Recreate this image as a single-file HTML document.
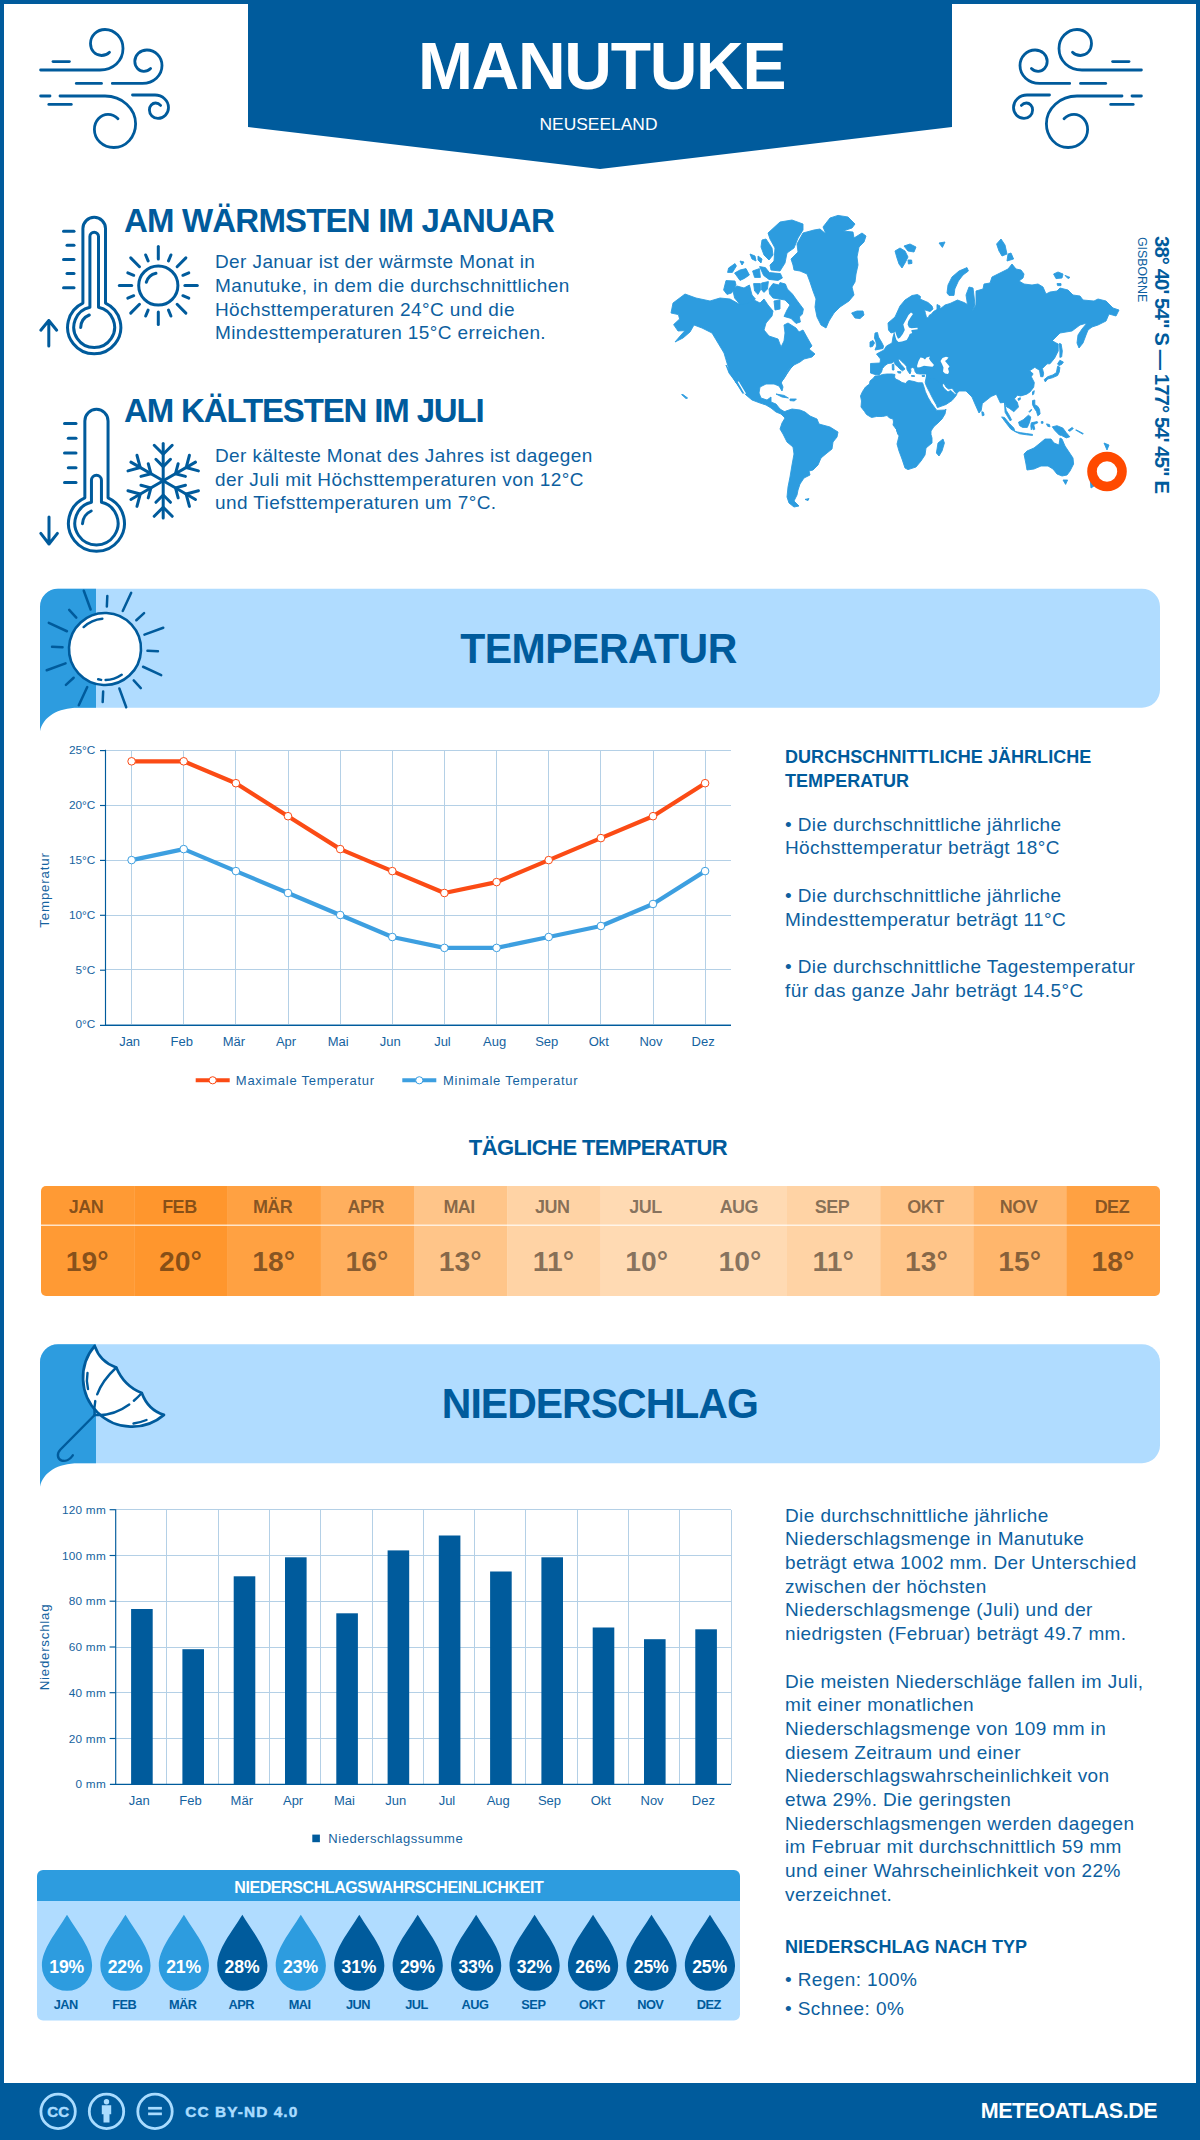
<!DOCTYPE html>
<html lang="de"><head><meta charset="utf-8"><title>Manutuke</title><style>
*{margin:0;padding:0;box-sizing:border-box}
html,body{width:1200px;height:2140px;background:#fff;overflow:hidden}
body{position:relative;font-family:"Liberation Sans",sans-serif;color:#005b9c}
.abs{position:absolute}
.t{position:absolute;white-space:nowrap;line-height:1}
.b{font-weight:700}
.c{text-align:center}
svg{position:absolute;left:0;top:0}
.body{position:absolute;white-space:nowrap;color:#0d5fa0;font-size:19px;line-height:23.7px;letter-spacing:0.4px}
</style></head><body>
<svg width="1200" height="2140" viewBox="0 0 1200 2140"><rect x="2" y="2" width="1196" height="2136" fill="none" stroke="#005b9c" stroke-width="4"/>
<path fill="#005b9c" d="M248,0 L952,0 L952,127 L600,169 L248,127Z"/>
<g fill="none" stroke="#005b9c" stroke-width="2.8" stroke-linecap="round"><path d="M40.6,70 L100,70 C113,70 123,61 123,48.5 C123,38 115,29.5 105,29.5 C97,29.5 90.5,35.5 90.5,43.5 C90.5,50.5 95.5,55.5 101.5,55.5 C105,55.5 107.5,54.3 109.5,52.2"/><path d="M53,61.6 L69.4,61.6"/><path d="M76.3,83.4 L101.5,83.4"/><path d="M112.3,83.4 L142.5,83.4 C153.5,83.4 162,75.5 162,65.6 C162,57 155.2,50 146.9,50 C140.2,50 134.8,55 134.8,61.3 C134.8,67 139,71.3 143.8,71.3 C146.5,71.3 148.8,70.3 150.6,68.5"/><path d="M40.6,96 L50,96"/><path d="M60,96 L105,96 C122,96 135.6,108.5 135.6,123.8 C135.6,137 126,147.5 113.8,147.5 C103,147.5 94.4,139.5 94.4,129.4 C94.4,121 100.5,114.4 108,114.4 C112,114.4 115.3,116 118,118.8"/><path d="M48.8,104.4 L71.3,104.4"/><path d="M132.5,95 L155,95 C162.5,95 168.5,100.6 168.5,107.5 C168.5,113.5 163.8,118.4 158,118.4 C153.2,118.4 149.4,114.6 149.4,110 C149.4,106 152.2,103 155.6,103 C157.6,103 159.3,103.9 160.6,105.4"/></g>
<g transform="translate(1182,0) scale(-1,1)" fill="none" stroke="#005b9c" stroke-width="2.8" stroke-linecap="round"><path d="M40.6,70 L100,70 C113,70 123,61 123,48.5 C123,38 115,29.5 105,29.5 C97,29.5 90.5,35.5 90.5,43.5 C90.5,50.5 95.5,55.5 101.5,55.5 C105,55.5 107.5,54.3 109.5,52.2"/><path d="M53,61.6 L69.4,61.6"/><path d="M76.3,83.4 L101.5,83.4"/><path d="M112.3,83.4 L142.5,83.4 C153.5,83.4 162,75.5 162,65.6 C162,57 155.2,50 146.9,50 C140.2,50 134.8,55 134.8,61.3 C134.8,67 139,71.3 143.8,71.3 C146.5,71.3 148.8,70.3 150.6,68.5"/><path d="M40.6,96 L50,96"/><path d="M60,96 L105,96 C122,96 135.6,108.5 135.6,123.8 C135.6,137 126,147.5 113.8,147.5 C103,147.5 94.4,139.5 94.4,129.4 C94.4,121 100.5,114.4 108,114.4 C112,114.4 115.3,116 118,118.8"/><path d="M48.8,104.4 L71.3,104.4"/><path d="M132.5,95 L155,95 C162.5,95 168.5,100.6 168.5,107.5 C168.5,113.5 163.8,118.4 158,118.4 C153.2,118.4 149.4,114.6 149.4,110 C149.4,106 152.2,103 155.6,103 C157.6,103 159.3,103.9 160.6,105.4"/></g>
<g fill="none" stroke="#005b9c" stroke-width="3" stroke-linecap="round" stroke-linejoin="round"><path d="M82.90,303.12 L82.90,228.60 A11.30,11.30 0 0 1 105.50,228.60 L105.50,303.12 A26.60,26.60 0 1 1 82.90,303.12Z"/><path d="M89.90,307.26 L89.90,236.50 A4.30,4.30 0 0 1 98.50,236.50 L98.50,307.26 A20.40,20.40 0 1 1 89.90,307.26Z"/><path d="M89.3,315 A14,14 0 0 0 80.7,327.5"/><path d="M63.5,231.2 L74,231.2"/><path d="M67,245.3 L74,245.3"/><path d="M63.5,259.4 L74,259.4"/><path d="M67,273.5 L74,273.5"/><path d="M63.5,287.7 L74,287.7"/><path d="M48.8,346 L48.8,320.5 M40.8,330.2 L48.8,320.5 L56.7,330.2"/><circle cx="158.3" cy="285.5" r="19.6"/><path d="M156,273.2 A13,13 0 0 0 146.3,282.2"/><path d="M158.30,258.90 L158.30,246.50"/><path d="M168.48,260.92 L170.93,255.01"/><path d="M177.11,266.69 L185.88,257.92"/><path d="M182.88,275.32 L188.79,272.87"/><path d="M184.90,285.50 L197.30,285.50"/><path d="M182.88,295.68 L188.79,298.13"/><path d="M177.11,304.31 L185.88,313.08"/><path d="M168.48,310.08 L170.93,315.99"/><path d="M158.30,312.10 L158.30,324.50"/><path d="M148.12,310.08 L145.67,315.99"/><path d="M139.49,304.31 L130.72,313.08"/><path d="M133.72,295.68 L127.81,298.13"/><path d="M131.70,285.50 L119.30,285.50"/><path d="M133.72,275.32 L127.81,272.87"/><path d="M139.49,266.69 L130.72,257.92"/><path d="M148.12,260.92 L145.67,255.01"/></g>
<g fill="none" stroke="#005b9c" stroke-width="3" stroke-linecap="round" stroke-linejoin="round"><path d="M84.85,497.82 L84.85,420.90 A11.60,11.60 0 0 1 108.05,420.90 L108.05,497.82 A28.00,28.00 0 1 1 84.85,497.82Z"/><path d="M91.45,502.29 L91.45,480.30 A5.00,5.00 0 0 1 101.45,480.30 L101.45,502.29 A21.60,21.60 0 1 1 91.45,502.29Z"/><path d="M91.2,511 A15,15 0 0 0 82.5,523.7"/><path d="M64.5,423.5 L76,423.5"/><path d="M68.3,438.2 L76,438.2"/><path d="M64.5,453 L76,453"/><path d="M68.3,467.7 L76,467.7"/><path d="M64.5,482.4 L76,482.4"/><path d="M49,517 L49,544 M40.8,533.4 L49,544 L57.4,533.4"/><g transform="rotate(0 163.2 480.8)"><path d="M163.2,480.8 L163.2,443.5"/><path d="M154.2,445.3 L163.2,454.3 L172.2,445.3"/><path d="M155.89999999999998,459.3 L163.2,466.6 L170.5,459.3"/></g><g transform="rotate(60 163.2 480.8)"><path d="M163.2,480.8 L163.2,443.5"/><path d="M154.2,445.3 L163.2,454.3 L172.2,445.3"/><path d="M155.89999999999998,459.3 L163.2,466.6 L170.5,459.3"/></g><g transform="rotate(120 163.2 480.8)"><path d="M163.2,480.8 L163.2,443.5"/><path d="M154.2,445.3 L163.2,454.3 L172.2,445.3"/><path d="M155.89999999999998,459.3 L163.2,466.6 L170.5,459.3"/></g><g transform="rotate(180 163.2 480.8)"><path d="M163.2,480.8 L163.2,443.5"/><path d="M154.2,445.3 L163.2,454.3 L172.2,445.3"/><path d="M155.89999999999998,459.3 L163.2,466.6 L170.5,459.3"/></g><g transform="rotate(240 163.2 480.8)"><path d="M163.2,480.8 L163.2,443.5"/><path d="M154.2,445.3 L163.2,454.3 L172.2,445.3"/><path d="M155.89999999999998,459.3 L163.2,466.6 L170.5,459.3"/></g><g transform="rotate(300 163.2 480.8)"><path d="M163.2,480.8 L163.2,443.5"/><path d="M154.2,445.3 L163.2,454.3 L172.2,445.3"/><path d="M155.89999999999998,459.3 L163.2,466.6 L170.5,459.3"/></g></g>
<g stroke-linejoin="round" stroke-width="0.9"><path fill="#2d9cdf" stroke="#2d9cdf" d="M673.0,303.0 L685.0,294.0 L696.0,298.0 L710.0,301.0 L720.0,298.0 L730.0,299.0 L739.0,304.0 L746.0,303.0 L752.0,299.0 L760.0,303.0 L764.0,299.0 L768.0,305.0 L773.0,311.0 L772.0,316.0 L766.0,323.0 L764.0,330.0 L769.0,336.0 L778.0,339.0 L781.0,347.0 L784.0,341.0 L785.0,333.0 L784.0,325.0 L788.0,323.0 L796.0,328.0 L799.0,332.0 L803.0,330.0 L808.0,339.0 L812.0,346.0 L809.0,349.0 L815.0,354.0 L812.0,357.0 L804.0,359.0 L800.0,362.0 L794.0,365.0 L788.0,371.0 L785.0,377.0 L780.0,384.0 L793.0,365.0 L788.0,370.0 L785.0,376.0 L781.0,382.0 L783.0,387.0 L782.0,391.0 L779.0,386.0 L774.0,384.0 L766.0,384.0 L760.0,387.0 L759.0,393.0 L761.0,398.0 L767.0,400.0 L771.0,397.0 L771.0,402.0 L776.0,404.0 L780.0,409.0 L785.0,412.0 L781.0,414.0 L776.0,412.0 L771.0,408.0 L766.0,405.0 L760.0,403.0 L752.0,400.0 L746.0,395.0 L740.0,388.0 L735.0,381.0 L729.0,373.0 L726.0,365.0 L737.0,384.0 L730.0,373.0 L727.0,363.0 L724.0,353.0 L718.0,343.0 L712.0,333.0 L702.0,328.0 L694.0,325.0 L690.0,332.0 L683.0,338.0 L675.0,342.0 L681.0,335.0 L685.0,330.6 L678.0,331.0 L673.6,324.6 L679.6,319.0 L678.4,314.6 L671.0,313.0Z"/><path fill="#2d9cdf" stroke="#2d9cdf" d="M734.8,380.6 L737.2,381.0 L744.0,392.6 L742.8,393.4Z"/><path fill="#ffffff" d="M737.6,381.8 L738.8,381.4 L746.0,393.4 L744.8,394.2Z"/><path fill="#2d9cdf" stroke="#2d9cdf" d="M776.0,394.0 L784.0,395.4 L788.4,398.0 L782.0,397.0Z"/><path fill="#2d9cdf" stroke="#2d9cdf" d="M790.0,399.0 L796.4,399.0 L794.4,401.0 L790.0,400.6Z"/><path fill="#2d9cdf" stroke="#2d9cdf" d="M681.6,394.6 L683.0,394.6 L687.6,398.0 L686.0,398.6Z"/><path fill="#2d9cdf" stroke="#2d9cdf" d="M768.0,233.0 L780.0,222.0 L792.0,220.0 L803.0,224.0 L803.0,230.0 L798.0,238.0 L794.0,248.0 L787.0,253.0 L785.0,263.0 L780.0,271.0 L771.0,270.0 L770.0,265.0 L774.0,261.0 L775.0,248.0 L770.0,239.0Z"/><path fill="#2d9cdf" stroke="#2d9cdf" d="M762.0,240.0 L766.0,239.0 L772.0,248.0 L773.0,255.0 L769.0,260.0 L764.0,255.0 L761.0,247.0Z"/><path fill="#2d9cdf" stroke="#2d9cdf" d="M759.6,266.6 L765.4,267.6 L769.4,272.6 L780.4,273.6 L782.4,278.0 L778.0,280.4 L769.0,279.4 L763.6,275.4Z"/><path fill="#2d9cdf" stroke="#2d9cdf" d="M769.0,289.0 L773.0,283.6 L779.0,285.0 L780.0,282.6 L785.4,284.0 L787.4,289.0 L792.4,294.0 L797.4,301.0 L803.4,309.0 L802.4,314.0 L799.4,317.0 L800.4,322.0 L796.0,323.4 L791.0,318.4 L784.0,316.4 L787.0,310.0 L790.0,305.0 L785.0,300.0 L779.0,299.0 L773.0,298.0 L769.6,294.0Z"/><path fill="#2d9cdf" stroke="#2d9cdf" d="M732.6,289.0 L737.0,286.0 L744.0,288.0 L749.4,285.0 L752.0,295.0 L755.4,299.0 L748.0,303.4 L740.0,304.4 L734.6,298.0Z"/><path fill="#2d9cdf" stroke="#2d9cdf" d="M726.0,280.6 L735.0,281.0 L736.0,285.0 L731.6,293.0 L727.0,294.4 L723.6,290.0Z"/><path fill="#2d9cdf" stroke="#2d9cdf" d="M734.6,273.0 L740.0,270.0 L746.0,268.6 L749.4,275.0 L744.4,278.4 L740.0,280.4Z"/><path fill="#2d9cdf" stroke="#2d9cdf" d="M728.6,268.0 L735.0,263.6 L736.4,266.0 L732.4,272.4 L727.6,272.4Z"/><path fill="#2d9cdf" stroke="#2d9cdf" d="M752.6,271.0 L759.4,268.6 L760.4,277.4 L754.6,277.4Z"/><path fill="#2d9cdf" stroke="#2d9cdf" d="M753.6,283.6 L760.4,283.6 L760.4,290.0 L758.0,294.4 L754.6,291.0Z"/><path fill="#2d9cdf" stroke="#2d9cdf" d="M761.6,283.0 L768.4,281.6 L767.4,289.0 L764.0,292.4 L761.6,290.0Z"/><path fill="#2d9cdf" stroke="#2d9cdf" d="M750.0,254.0 L755.0,256.0 L756.0,261.0 L752.0,259.0Z"/><path fill="#2d9cdf" stroke="#2d9cdf" d="M758.0,256.0 L762.0,259.0 L761.0,263.0 L758.0,260.0Z"/><path fill="#2d9cdf" stroke="#2d9cdf" d="M740.0,261.0 L744.0,262.0 L742.0,265.0Z"/><path fill="#2d9cdf" stroke="#2d9cdf" d="M774.0,301.0 L780.0,300.0 L780.0,309.0 L775.0,310.0Z"/><path fill="#2d9cdf" stroke="#2d9cdf" d="M791.0,259.0 L798.0,252.0 L797.0,244.0 L803.0,233.0 L814.0,230.0 L820.0,229.0 L826.0,234.0 L823.0,227.0 L830.0,218.0 L838.0,215.4 L848.0,217.0 L855.0,224.0 L852.0,228.0 L843.0,231.0 L853.0,232.0 L854.0,238.0 L862.0,233.0 L866.0,236.0 L864.0,242.0 L859.0,247.0 L857.0,257.0 L858.0,265.0 L856.0,274.0 L855.0,282.0 L852.0,287.0 L854.0,295.0 L849.0,301.0 L840.0,307.0 L834.0,313.0 L829.0,321.0 L826.0,328.0 L821.0,325.0 L817.0,317.0 L815.0,307.0 L816.0,299.0 L813.0,291.0 L810.0,282.0 L807.0,274.0 L800.0,271.0 L794.0,270.0 L793.0,265.0Z"/><path fill="#2d9cdf" stroke="#2d9cdf" d="M851.6,313.0 L857.0,311.0 L863.0,311.0 L864.0,315.0 L860.0,318.6 L855.0,318.0Z"/><path fill="#2d9cdf" stroke="#2d9cdf" d="M781.0,414.0 L786.0,411.0 L792.0,409.0 L800.0,410.0 L805.0,412.0 L810.0,416.0 L817.0,419.0 L819.0,424.0 L830.0,427.0 L838.0,432.0 L837.0,437.0 L833.0,442.0 L832.0,449.0 L827.0,453.0 L821.0,458.0 L818.0,465.0 L813.0,470.0 L809.0,471.0 L810.0,475.0 L804.0,478.0 L800.0,484.0 L798.0,490.0 L797.0,495.0 L794.0,501.0 L799.0,506.0 L794.0,507.0 L789.0,503.0 L787.0,497.0 L788.0,487.0 L790.0,477.0 L792.0,465.0 L794.0,454.0 L793.0,447.0 L787.0,442.0 L783.0,434.0 L780.0,429.0 L782.0,423.0 L785.0,418.0Z"/><path fill="#2d9cdf" stroke="#2d9cdf" d="M805.0,499.4 L809.0,498.6 L808.0,500.6Z"/><path fill="#2d9cdf" stroke="#2d9cdf" d="M876.0,376.0 L879.0,375.8 L882.5,374.5 L887.0,374.0 L892.0,374.0 L895.0,374.5 L894.5,377.0 L895.5,379.0 L899.0,380.5 L902.0,382.5 L906.0,383.5 L907.0,381.5 L909.0,380.5 L914.0,381.5 L918.0,382.8 L922.5,382.8 L923.6,385.8 L925.4,391.8 L927.9,397.3 L930.9,402.4 L934.9,407.9 L936.8,410.4 L945.0,410.0 L946.0,409.0 L945.0,414.0 L942.0,419.0 L938.0,423.0 L934.0,426.5 L931.0,431.0 L931.0,434.5 L932.0,438.0 L932.0,443.0 L926.0,448.0 L925.0,455.0 L921.0,461.0 L916.0,467.0 L908.0,469.6 L905.0,468.0 L902.0,459.0 L899.0,451.0 L897.0,444.0 L899.0,436.0 L896.0,428.0 L898.0,434.5 L896.5,429.5 L893.0,425.0 L893.5,422.0 L893.0,419.0 L889.5,418.0 L887.0,415.5 L882.5,416.5 L876.5,416.5 L871.5,417.5 L866.5,414.5 L864.5,411.5 L861.0,407.0 L861.5,401.0 L860.5,396.0 L862.5,391.5 L865.5,387.0 L869.5,384.0 L870.0,381.0 L873.5,378.0 L875.0,376.0Z"/><path fill="#2d9cdf" stroke="#2d9cdf" d="M938.0,443.0 L943.0,439.0 L944.4,443.0 L942.0,451.0 L939.0,456.0 L936.4,453.0Z"/><path fill="#2d9cdf" stroke="#2d9cdf" d="M925.2,382.2 L926.0,385.0 L926.8,386.8 L929.8,392.6 L932.8,398.6 L936.3,404.7 L937.4,407.6 L946.0,404.5 L952.0,400.5 L955.0,397.0 L956.8,394.5 L955.0,394.5 L952.5,392.0 L950.5,390.5 L948.0,392.0 L945.0,389.5 L943.0,387.0 L942.0,384.5 L942.0,379.0 L930.0,373.0 L926.8,374.5Z"/><path fill="#2d9cdf" stroke="#2d9cdf" d="M870.5,370.0 L870.5,363.5 L880.0,363.0 L880.5,359.0 L876.5,354.0 L884.0,350.0 L886.5,346.0 L892.0,343.0 L893.0,337.0 L894.5,332.0 L891.0,333.0 L888.5,330.0 L888.0,323.0 L895.0,317.0 L900.0,306.0 L905.0,300.0 L912.0,295.5 L917.5,294.5 L920.5,296.5 L920.0,299.0 L928.0,302.5 L932.0,306.0 L933.0,309.0 L930.0,311.5 L924.5,309.8 L925.5,313.5 L926.5,317.5 L928.5,317.8 L929.0,315.5 L931.5,314.0 L933.5,311.5 L937.0,309.5 L937.0,304.5 L940.0,306.0 L940.0,309.0 L945.0,305.0 L950.0,303.5 L957.5,300.0 L964.0,302.5 L967.5,304.5 L966.0,295.0 L969.0,287.0 L973.0,288.0 L974.0,296.0 L975.0,305.0 L972.0,311.0 L976.0,305.0 L976.0,291.0 L983.0,289.0 L984.0,284.0 L990.0,283.0 L992.0,277.0 L1000.0,273.0 L1008.0,269.0 L1012.0,264.0 L1016.0,269.0 L1021.0,270.0 L1024.0,274.0 L1023.0,278.0 L1019.0,281.0 L1024.0,284.0 L1032.0,285.0 L1038.0,284.0 L1043.0,287.0 L1046.0,294.0 L1050.0,292.0 L1057.0,291.0 L1060.0,288.0 L1068.0,290.0 L1073.0,295.0 L1080.0,296.0 L1083.0,300.0 L1094.0,301.0 L1098.0,299.0 L1106.0,301.0 L1113.0,308.0 L1119.0,310.0 L1116.0,316.0 L1109.0,314.0 L1106.0,321.0 L1098.0,325.0 L1092.0,327.0 L1088.0,330.0 L1086.0,335.0 L1083.0,343.0 L1079.0,348.0 L1077.0,343.0 L1078.0,335.0 L1082.0,329.0 L1087.0,323.0 L1080.0,325.0 L1072.0,331.0 L1060.0,333.0 L1052.0,341.0 L1051.8,340.5 L1055.8,342.8 L1058.2,344.0 L1058.2,351.0 L1054.7,358.0 L1050.0,363.8 L1047.1,363.8 L1042.4,368.5 L1043.6,373.2 L1043.0,376.7 L1040.7,376.7 L1039.5,370.3 L1034.8,367.3 L1029.6,370.8 L1033.1,373.8 L1031.3,376.7 L1034.3,382.5 L1033.7,387.2 L1030.2,391.8 L1026.7,394.2 L1020.8,395.9 L1017.3,395.3 L1014.4,398.8 L1017.3,402.3 L1018.5,407.0 L1013.8,411.7 L1009.2,408.2 L1006.8,407.0 L1004.5,402.3 L1000.4,402.9 L996.3,394.2 L991.1,396.5 L982.3,403.5 L981.2,410.5 L980.0,411.7 L979.0,413.0 L975.0,404.0 L972.0,397.0 L966.0,391.0 L959.0,391.0 L956.5,394.0 L954.0,391.0 L953.0,389.0 L951.5,388.5 L948.5,389.0 L946.0,387.0 L944.0,383.5 L942.0,384.5 L935.0,379.0 L926.8,378.0 L926.8,376.0 L926.5,374.0 L924.0,374.0 L920.0,374.0 L916.5,373.5 L915.0,371.5 L914.5,368.5 L912.5,367.5 L910.5,368.5 L911.0,371.0 L910.0,374.0 L908.5,372.0 L907.0,369.5 L906.6,366.5 L904.8,364.2 L902.0,361.8 L899.3,359.0 L898.2,359.8 L899.2,361.8 L900.8,364.2 L903.2,366.8 L905.0,369.0 L902.5,370.8 L900.0,369.0 L897.5,366.5 L895.2,364.5 L894.0,361.5 L892.0,363.0 L888.0,363.5 L885.0,365.5 L882.5,368.5 L881.5,372.0 L879.0,375.0 L875.0,374.5 L870.5,373.0Z"/><path fill="#ffffff" d="M911.0,312.5 L913.0,314.0 L911.0,316.8 L908.2,321.2 L907.6,324.5 L909.0,327.5 L911.5,328.2 L917.5,327.8 L917.7,329.2 L912.0,330.0 L911.2,330.5 L912.2,333.0 L909.7,334.0 L908.7,336.5 L906.7,340.0 L902.0,341.5 L898.5,342.0 L896.5,340.0 L895.5,337.0 L894.5,332.5 L895.2,331.5 L896.5,335.5 L898.0,338.8 L900.0,337.8 L902.8,334.0 L904.8,330.0 L903.3,324.5 L905.8,320.0 L908.5,315.0Z"/><path fill="#ffffff" d="M917.0,366.0 L918.5,361.0 L920.5,357.5 L923.0,358.0 L925.0,359.5 L926.5,357.5 L930.0,356.5 L929.0,358.5 L930.5,361.0 L934.0,365.0 L932.5,366.8 L928.0,366.2 L924.0,365.8 L920.0,367.2 L917.5,367.5Z"/><path fill="#ffffff" d="M940.5,361.0 L942.5,358.0 L946.0,356.8 L948.5,357.5 L947.0,359.5 L945.0,361.0 L947.5,364.0 L949.5,366.5 L948.0,368.5 L949.0,372.0 L948.0,374.0 L945.0,373.5 L943.0,371.5 L943.5,367.5 L942.0,364.0Z"/><path fill="#2d9cdf" stroke="#2d9cdf" d="M892.2,364.5 L893.8,364.2 L894.0,370.0 L892.4,370.0Z"/><path fill="#2d9cdf" stroke="#2d9cdf" d="M897.5,371.5 L901.0,371.8 L900.5,373.2 L898.0,372.8Z"/><path fill="#2d9cdf" stroke="#2d9cdf" d="M911.5,375.5 L914.5,375.7 L914.5,376.5 L911.5,376.3Z"/><path fill="#2d9cdf" stroke="#2d9cdf" d="M922.0,375.5 L924.5,375.3 L924.5,376.5 L922.2,376.5Z"/><path fill="#2d9cdf" stroke="#2d9cdf" d="M875.0,333.0 L877.5,332.5 L878.5,337.0 L881.5,342.0 L883.5,346.0 L883.0,348.5 L875.0,350.0 L876.5,346.0 L876.0,342.0 L874.5,338.0Z"/><path fill="#2d9cdf" stroke="#2d9cdf" d="M870.0,342.0 L873.0,340.5 L874.5,343.0 L872.5,346.5 L870.0,347.0Z"/><path fill="#2d9cdf" stroke="#2d9cdf" d="M947.0,293.0 L948.0,285.0 L952.0,277.0 L959.0,271.0 L967.0,267.6 L968.4,271.0 L963.0,275.0 L958.4,281.0 L954.8,289.0 L954.0,295.4 L949.0,295.4Z"/><path fill="#2d9cdf" stroke="#2d9cdf" d="M895.0,251.0 L900.0,248.0 L905.0,251.0 L908.0,257.0 L905.0,263.0 L902.0,268.0 L899.0,264.0 L897.0,258.0Z"/><path fill="#2d9cdf" stroke="#2d9cdf" d="M904.0,246.0 L910.0,244.0 L916.0,247.0 L914.0,252.0 L908.0,251.0Z"/><path fill="#2d9cdf" stroke="#2d9cdf" d="M908.0,260.0 L911.6,260.0 L912.0,263.4 L908.4,264.0Z"/><path fill="#2d9cdf" stroke="#2d9cdf" d="M939.0,243.0 L945.0,242.0 L942.4,247.4Z"/><path fill="#2d9cdf" stroke="#2d9cdf" d="M996.6,244.0 L1001.0,239.0 L1005.0,245.0 L1007.0,254.0 L1002.0,256.0 L999.0,251.0Z"/><path fill="#2d9cdf" stroke="#2d9cdf" d="M1008.0,254.0 L1011.0,253.0 L1013.6,259.0 L1007.0,261.0Z"/><path fill="#2d9cdf" stroke="#2d9cdf" d="M1053.6,274.0 L1058.0,272.0 L1063.0,274.0 L1062.0,278.0 L1056.0,278.6Z"/><path fill="#2d9cdf" stroke="#2d9cdf" d="M1065.0,275.4 L1070.0,277.4 L1068.0,278.6Z"/><path fill="#2d9cdf" stroke="#2d9cdf" d="M1057.0,283.6 L1061.0,283.6 L1061.0,285.6 L1057.6,285.6Z"/><path fill="#2d9cdf" stroke="#2d9cdf" d="M1059.3,343.4 L1061.1,344.0 L1062.3,351.0 L1061.7,356.8 L1059.9,357.4 L1059.9,351.0Z"/><path fill="#2d9cdf" stroke="#2d9cdf" d="M1057.6,363.8 L1059.9,360.3 L1063.4,362.1 L1061.7,364.4 L1058.8,365.6Z"/><path fill="#2d9cdf" stroke="#2d9cdf" d="M1057.6,366.2 L1059.9,367.3 L1059.3,372.0 L1057.6,375.5 L1052.3,377.8 L1047.7,379.0 L1045.3,381.9 L1044.2,379.6 L1047.7,376.7 L1052.9,374.9 L1056.4,372.6Z"/><path fill="#2d9cdf" stroke="#2d9cdf" d="M1032.5,391.8 L1034.3,390.7 L1033.7,394.2 L1032.5,394.8Z"/><path fill="#2d9cdf" stroke="#2d9cdf" d="M1017.9,398.8 L1020.3,397.7 L1020.3,399.4 L1018.5,400.4Z"/><path fill="#2d9cdf" stroke="#2d9cdf" d="M1032.5,400.6 L1034.8,400.0 L1034.8,404.7 L1037.8,406.4 L1039.5,409.3 L1040.1,414.0 L1037.8,415.8 L1036.6,411.7 L1034.3,408.2 L1032.5,404.7Z"/><path fill="#2d9cdf" stroke="#2d9cdf" d="M1029.0,411.7 L1031.3,409.3 L1031.7,409.9 L1029.6,412.3Z"/><path fill="#2d9cdf" stroke="#2d9cdf" d="M1018.5,422.2 L1023.2,419.8 L1028.4,415.2 L1030.8,416.9 L1029.6,422.2 L1027.3,427.4 L1022.6,427.4 L1019.7,425.7Z"/><path fill="#2d9cdf" stroke="#2d9cdf" d="M1031.3,422.8 L1037.2,421.6 L1037.8,422.8 L1033.7,424.5 L1034.8,429.2 L1033.1,429.8 L1032.5,426.8 L1031.3,429.8 L1030.8,425.7Z"/><path fill="#2d9cdf" stroke="#2d9cdf" d="M1004.5,402.3 L1006.3,410.5 L1009.2,415.2 L1011.5,419.8 L1010.3,421.0 L1007.4,416.3 L1005.1,412.3Z"/><path fill="#2d9cdf" stroke="#2d9cdf" d="M1001.6,416.9 L1004.5,417.5 L1009.2,423.3 L1013.8,428.0 L1015.0,431.5 L1010.9,429.2 L1006.3,423.3Z"/><path fill="#2d9cdf" stroke="#2d9cdf" d="M1015.0,431.5 L1020.8,432.7 L1026.7,433.6 L1032.5,434.4 L1032.5,435.4 L1026.7,434.8 L1019.7,433.8Z"/><path fill="#2d9cdf" stroke="#2d9cdf" d="M1052.3,426.8 L1057.0,425.7 L1062.8,428.0 L1066.3,432.7 L1069.8,436.8 L1066.3,437.9 L1061.7,435.6 L1059.3,435.0 L1054.7,430.3Z"/><path fill="#2d9cdf" stroke="#2d9cdf" d="M1046.5,423.9 L1049.4,424.5 L1050.0,426.8 L1047.7,426.3Z"/><path fill="#2d9cdf" stroke="#2d9cdf" d="M1041.3,421.6 L1043.0,421.6 L1043.0,423.3 L1041.3,423.3Z"/><path fill="#2d9cdf" stroke="#2d9cdf" d="M1068.1,430.3 L1072.2,427.4 L1073.3,428.6 L1069.8,431.3Z"/><path fill="#2d9cdf" stroke="#2d9cdf" d="M1075.7,430.1 L1076.4,429.9 L1083.3,433.6 L1082.7,434.1Z"/><path fill="#2d9cdf" stroke="#2d9cdf" d="M981.8,411.7 L983.5,412.3 L984.1,415.2 L982.3,415.8Z"/><path fill="#2d9cdf" stroke="#2d9cdf" d="M1024.0,454.0 L1027.0,451.0 L1034.0,448.0 L1039.0,444.0 L1045.0,439.0 L1051.0,439.0 L1054.0,443.0 L1059.0,445.0 L1060.0,438.0 L1062.0,439.0 L1065.0,446.0 L1069.0,452.0 L1073.0,458.0 L1073.6,464.0 L1070.0,471.0 L1067.0,475.0 L1062.0,476.0 L1057.0,474.0 L1053.0,469.0 L1048.0,466.0 L1041.0,466.0 L1034.0,469.0 L1027.0,470.0 L1026.0,464.0 L1025.0,459.0Z"/><path fill="#2d9cdf" stroke="#2d9cdf" d="M1063.0,480.0 L1067.6,480.0 L1065.6,484.4Z"/><path fill="#2d9cdf" stroke="#2d9cdf" d="M1090.0,478.0 L1096.0,474.0 L1097.0,484.0 L1091.0,488.0Z"/><path fill="#2d9cdf" stroke="#2d9cdf" d="M1104.0,443.0 L1109.0,445.0 L1107.0,450.0Z"/></g>
<circle cx="1107" cy="471.5" r="15" fill="none" stroke="#ff4a00" stroke-width="9.6"/>
<path fill="#b0dcff" d="M58,588.7 L1142,588.7 A18,18 0 0 1 1160,606.7 L1160,689.7 A18,18 0 0 1 1142,707.7 L40,707.7 L40,606.7 A18,18 0 0 1 58,588.7Z"/><path fill="#2d9cdf" d="M58,588.7 L96,588.7 L96,707.7 L78,707.7 C58,707.7 43,716.7 40,731.2 L40,606.7 A18,18 0 0 1 58,588.7Z"/>
<path fill="#b0dcff" d="M58,1344.2 L1142,1344.2 A18,18 0 0 1 1160,1362.2 L1160,1445.2 A18,18 0 0 1 1142,1463.2 L40,1463.2 L40,1362.2 A18,18 0 0 1 58,1344.2Z"/><path fill="#2d9cdf" d="M58,1344.2 L96,1344.2 L96,1463.2 L78,1463.2 C58,1463.2 43,1472.2 40,1486.7 L40,1362.2 A18,18 0 0 1 58,1344.2Z"/>
<g transform="rotate(2.5 105 649)" fill="none" stroke="#005b9c" stroke-width="2.5" stroke-linecap="round"><circle cx="105" cy="649" r="36" fill="#fff" stroke-width="2.6"/><path d="M105.00,606.50 L105.00,596.00"/><path d="M121.07,610.20 L128.73,591.72"/><path d="M135.05,618.95 L142.48,611.52"/><path d="M143.80,632.93 L162.28,625.27"/><path d="M147.50,649.00 L158.00,649.00"/><path d="M143.80,665.07 L162.28,672.73"/><path d="M135.05,679.05 L142.48,686.48"/><path d="M121.07,687.80 L128.73,706.28"/><path d="M105.00,691.50 L105.00,702.00"/><path d="M88.93,687.80 L81.27,706.28"/><path d="M74.95,679.05 L67.52,686.48"/><path d="M66.20,665.07 L47.72,672.73"/><path d="M62.50,649.00 L52.00,649.00"/><path d="M66.20,632.93 L47.72,625.27"/><path d="M74.95,618.95 L67.52,611.52"/><path d="M88.93,610.20 L81.27,591.72"/><path d="M82.7,628 A31,31 0 0 1 101,618.8"/><path d="M107,680 A31,31 0 0 0 122.8,674"/><path d="M99.5,679.5 L102.5,680"/></g>
<g transform="translate(0,0)" fill="none" stroke="#005b9c" stroke-width="2.4" stroke-linecap="round" stroke-linejoin="round"><path fill="#fff" stroke-width="2.7" d="M94.7,1345.9 A49.05,49.05 0 0 0 164,1414.9 Q148,1410 141.8,1393 Q124,1386 116.3,1367.5 Q100,1362 94.7,1345.9Z"/><path d="M94.6,1415 Q92,1390 116.3,1367.5" stroke-dasharray="14 7 60"/><path d="M94.6,1415 Q120,1417 141.8,1393" stroke-dasharray="37 6 40"/><path d="M87.5,1373 Q86,1381 88,1389"/><path d="M133.5,1423.5 Q140.5,1422.5 146.5,1420"/><path d="M94.6,1415 L60.5,1449.5 C56.5,1453.5 57.3,1459 61.5,1460.5 C65.5,1461.8 70,1459.5 72.8,1455.3"/></g>
<g stroke="#b4d0e6" stroke-width="1" shape-rendering="crispEdges"><line x1="105.5" x2="731" y1="1024.8" y2="1024.8"/><line x1="105.5" x2="731" y1="969.9" y2="969.9"/><line x1="105.5" x2="731" y1="915.0" y2="915.0"/><line x1="105.5" x2="731" y1="860.1" y2="860.1"/><line x1="105.5" x2="731" y1="805.2" y2="805.2"/><line x1="105.5" x2="731" y1="750.3" y2="750.3"/><line x1="131.6" x2="131.6" y1="750.3" y2="1024.8"/><line x1="183.7" x2="183.7" y1="750.3" y2="1024.8"/><line x1="235.9" x2="235.9" y1="750.3" y2="1024.8"/><line x1="288.0" x2="288.0" y1="750.3" y2="1024.8"/><line x1="340.2" x2="340.2" y1="750.3" y2="1024.8"/><line x1="392.3" x2="392.3" y1="750.3" y2="1024.8"/><line x1="444.4" x2="444.4" y1="750.3" y2="1024.8"/><line x1="496.6" x2="496.6" y1="750.3" y2="1024.8"/><line x1="548.7" x2="548.7" y1="750.3" y2="1024.8"/><line x1="600.9" x2="600.9" y1="750.3" y2="1024.8"/><line x1="653.0" x2="653.0" y1="750.3" y2="1024.8"/><line x1="705.1" x2="705.1" y1="750.3" y2="1024.8"/></g><g stroke="#005b9c" stroke-width="1.15"><line x1="105.5" x2="105.5" y1="749.8" y2="1025.8"/><line x1="100.0" x2="731" y1="1025.3" y2="1025.3"/><line x1="100.0" x2="105.5" y1="970.2" y2="970.2"/><line x1="100.0" x2="105.5" y1="915.3" y2="915.3"/><line x1="100.0" x2="105.5" y1="860.4" y2="860.4"/><line x1="100.0" x2="105.5" y1="805.5" y2="805.5"/><line x1="100.0" x2="105.5" y1="750.6" y2="750.6"/></g><polyline fill="none" stroke="#fb4b15" stroke-width="4.2" stroke-linejoin="round" points="131.6,761.3 183.7,761.3 235.9,783.2 288.0,816.2 340.2,849.1 392.3,871.1 444.4,893.0 496.6,882.1 548.7,860.1 600.9,838.1 653.0,816.2 705.1,783.2"/><circle cx="131.6" cy="761.3" r="3.8" fill="#fff" stroke="#fb4b15" stroke-width="1"/><circle cx="183.7" cy="761.3" r="3.8" fill="#fff" stroke="#fb4b15" stroke-width="1"/><circle cx="235.9" cy="783.2" r="3.8" fill="#fff" stroke="#fb4b15" stroke-width="1"/><circle cx="288.0" cy="816.2" r="3.8" fill="#fff" stroke="#fb4b15" stroke-width="1"/><circle cx="340.2" cy="849.1" r="3.8" fill="#fff" stroke="#fb4b15" stroke-width="1"/><circle cx="392.3" cy="871.1" r="3.8" fill="#fff" stroke="#fb4b15" stroke-width="1"/><circle cx="444.4" cy="893.0" r="3.8" fill="#fff" stroke="#fb4b15" stroke-width="1"/><circle cx="496.6" cy="882.1" r="3.8" fill="#fff" stroke="#fb4b15" stroke-width="1"/><circle cx="548.7" cy="860.1" r="3.8" fill="#fff" stroke="#fb4b15" stroke-width="1"/><circle cx="600.9" cy="838.1" r="3.8" fill="#fff" stroke="#fb4b15" stroke-width="1"/><circle cx="653.0" cy="816.2" r="3.8" fill="#fff" stroke="#fb4b15" stroke-width="1"/><circle cx="705.1" cy="783.2" r="3.8" fill="#fff" stroke="#fb4b15" stroke-width="1"/><polyline fill="none" stroke="#3d9fe0" stroke-width="4.2" stroke-linejoin="round" points="131.6,860.1 183.7,849.1 235.9,871.1 288.0,893.0 340.2,915.0 392.3,937.0 444.4,947.9 496.6,947.9 548.7,937.0 600.9,926.0 653.0,904.0 705.1,871.1"/><circle cx="131.6" cy="860.1" r="3.8" fill="#fff" stroke="#3d9fe0" stroke-width="1"/><circle cx="183.7" cy="849.1" r="3.8" fill="#fff" stroke="#3d9fe0" stroke-width="1"/><circle cx="235.9" cy="871.1" r="3.8" fill="#fff" stroke="#3d9fe0" stroke-width="1"/><circle cx="288.0" cy="893.0" r="3.8" fill="#fff" stroke="#3d9fe0" stroke-width="1"/><circle cx="340.2" cy="915.0" r="3.8" fill="#fff" stroke="#3d9fe0" stroke-width="1"/><circle cx="392.3" cy="937.0" r="3.8" fill="#fff" stroke="#3d9fe0" stroke-width="1"/><circle cx="444.4" cy="947.9" r="3.8" fill="#fff" stroke="#3d9fe0" stroke-width="1"/><circle cx="496.6" cy="947.9" r="3.8" fill="#fff" stroke="#3d9fe0" stroke-width="1"/><circle cx="548.7" cy="937.0" r="3.8" fill="#fff" stroke="#3d9fe0" stroke-width="1"/><circle cx="600.9" cy="926.0" r="3.8" fill="#fff" stroke="#3d9fe0" stroke-width="1"/><circle cx="653.0" cy="904.0" r="3.8" fill="#fff" stroke="#3d9fe0" stroke-width="1"/><circle cx="705.1" cy="871.1" r="3.8" fill="#fff" stroke="#3d9fe0" stroke-width="1"/><line x1="195.7" x2="229.7" y1="1080.3" y2="1080.3" stroke="#fb4b15" stroke-width="4"/><circle cx="212.7" cy="1080.3" r="3.6" fill="#fff" stroke="#fb4b15" stroke-width="1"/><line x1="402.3" x2="436.3" y1="1080.3" y2="1080.3" stroke="#3d9fe0" stroke-width="4"/><circle cx="419.3" cy="1080.3" r="3.6" fill="#fff" stroke="#3d9fe0" stroke-width="1"/>
<defs><clipPath id="tc"><rect x="41" y="1186" width="1119" height="110" rx="5"/></clipPath></defs><g clip-path="url(#tc)"><rect x="41.00" y="1186" width="93.6" height="110" fill="#ff9a34"/><rect x="134.25" y="1186" width="93.6" height="110" fill="#ff962d"/><rect x="227.50" y="1186" width="93.6" height="110" fill="#ffa142"/><rect x="320.75" y="1186" width="93.6" height="110" fill="#ffaf5e"/><rect x="414.00" y="1186" width="93.6" height="110" fill="#ffc589"/><rect x="507.25" y="1186" width="93.6" height="110" fill="#ffd3a5"/><rect x="600.50" y="1186" width="93.6" height="110" fill="#ffdab3"/><rect x="693.75" y="1186" width="93.6" height="110" fill="#ffdab3"/><rect x="787.00" y="1186" width="93.6" height="110" fill="#ffd3a5"/><rect x="880.25" y="1186" width="93.6" height="110" fill="#ffc589"/><rect x="973.50" y="1186" width="93.6" height="110" fill="#ffb66c"/><rect x="1066.75" y="1186" width="93.6" height="110" fill="#ffa142"/><rect x="41" y="1224.6" width="1119" height="1.2" fill="#fff" opacity="0.9"/></g>
<g stroke="#b4d0e6" stroke-width="1" shape-rendering="crispEdges"><line x1="115.6" x2="731" y1="1784.2" y2="1784.2"/><line x1="115.6" x2="731" y1="1738.5" y2="1738.5"/><line x1="115.6" x2="731" y1="1692.7" y2="1692.7"/><line x1="115.6" x2="731" y1="1647.0" y2="1647.0"/><line x1="115.6" x2="731" y1="1601.2" y2="1601.2"/><line x1="115.6" x2="731" y1="1555.5" y2="1555.5"/><line x1="115.6" x2="731" y1="1509.7" y2="1509.7"/><line x1="166.9" x2="166.9" y1="1509.7" y2="1784.2"/><line x1="218.2" x2="218.2" y1="1509.7" y2="1784.2"/><line x1="269.4" x2="269.4" y1="1509.7" y2="1784.2"/><line x1="320.7" x2="320.7" y1="1509.7" y2="1784.2"/><line x1="372.0" x2="372.0" y1="1509.7" y2="1784.2"/><line x1="423.3" x2="423.3" y1="1509.7" y2="1784.2"/><line x1="474.6" x2="474.6" y1="1509.7" y2="1784.2"/><line x1="525.9" x2="525.9" y1="1509.7" y2="1784.2"/><line x1="577.1" x2="577.1" y1="1509.7" y2="1784.2"/><line x1="628.4" x2="628.4" y1="1509.7" y2="1784.2"/><line x1="679.7" x2="679.7" y1="1509.7" y2="1784.2"/><line x1="731.0" x2="731.0" y1="1509.7" y2="1784.2"/></g><rect x="131.1" y="1609.0" width="21.6" height="175.2" fill="#005b9c"/><rect x="182.4" y="1649.2" width="21.6" height="135.0" fill="#005b9c"/><rect x="233.7" y="1576.3" width="21.6" height="207.9" fill="#005b9c"/><rect x="285.0" y="1557.3" width="21.6" height="226.9" fill="#005b9c"/><rect x="336.3" y="1613.3" width="21.6" height="170.9" fill="#005b9c"/><rect x="387.6" y="1550.4" width="21.6" height="233.8" fill="#005b9c"/><rect x="438.8" y="1535.5" width="21.6" height="248.7" fill="#005b9c"/><rect x="490.1" y="1571.5" width="21.6" height="212.7" fill="#005b9c"/><rect x="541.4" y="1557.3" width="21.6" height="226.9" fill="#005b9c"/><rect x="592.7" y="1627.5" width="21.6" height="156.7" fill="#005b9c"/><rect x="644.0" y="1639.2" width="21.6" height="145.0" fill="#005b9c"/><rect x="695.3" y="1629.3" width="21.6" height="154.9" fill="#005b9c"/><g stroke="#005b9c" stroke-width="1.15"><line x1="115.69999999999999" x2="115.69999999999999" y1="1509.2" y2="1784.9"/><line x1="109.89999999999999" x2="731" y1="1784.3" y2="1784.3"/><line x1="109.6" x2="115.6" y1="1738.5" y2="1738.5"/><line x1="109.6" x2="115.6" y1="1692.7" y2="1692.7"/><line x1="109.6" x2="115.6" y1="1647.0" y2="1647.0"/><line x1="109.6" x2="115.6" y1="1601.2" y2="1601.2"/><line x1="109.6" x2="115.6" y1="1555.5" y2="1555.5"/><line x1="109.6" x2="115.6" y1="1509.7" y2="1509.7"/></g><rect x="312.3" y="1834.6" width="7.6" height="7.6" fill="#005b9c"/>
<path fill="#b0dcff" d="M37,1895 L740,1895 L740,2014.5 A6,6 0 0 1 734,2020.5 L43,2020.5 A6,6 0 0 1 37,2014.5Z"/><path fill="#2d9cdf" d="M43,1870 L734,1870 A6,6 0 0 1 740,1876 L740,1901 L37,1901 L37,1876 A6,6 0 0 1 43,1870Z"/><path fill="#2d9cdf" d="M67.0,1914.8 C78.0,1932.8 92.1,1949.20 92.1,1965.70 A25.1,25.1 0 0 1 41.9,1965.70 C41.9,1949.20 56.0,1932.8 67.0,1914.8Z"/><path fill="#2d9cdf" d="M125.45,1914.8 C136.45,1932.8 150.55,1949.20 150.55,1965.70 A25.1,25.1 0 0 1 100.35,1965.70 C100.35,1949.20 114.45,1932.8 125.45,1914.8Z"/><path fill="#2d9cdf" d="M183.9,1914.8 C194.9,1932.8 209.0,1949.20 209.0,1965.70 A25.1,25.1 0 0 1 158.8,1965.70 C158.8,1949.20 172.9,1932.8 183.9,1914.8Z"/><path fill="#005b9c" d="M242.35000000000002,1914.8 C253.35000000000002,1932.8 267.45000000000005,1949.20 267.45000000000005,1965.70 A25.1,25.1 0 0 1 217.25000000000003,1965.70 C217.25000000000003,1949.20 231.35000000000002,1932.8 242.35000000000002,1914.8Z"/><path fill="#2d9cdf" d="M300.8,1914.8 C311.8,1932.8 325.90000000000003,1949.20 325.90000000000003,1965.70 A25.1,25.1 0 0 1 275.7,1965.70 C275.7,1949.20 289.8,1932.8 300.8,1914.8Z"/><path fill="#005b9c" d="M359.25,1914.8 C370.25,1932.8 384.35,1949.20 384.35,1965.70 A25.1,25.1 0 0 1 334.15,1965.70 C334.15,1949.20 348.25,1932.8 359.25,1914.8Z"/><path fill="#005b9c" d="M417.70000000000005,1914.8 C428.70000000000005,1932.8 442.80000000000007,1949.20 442.80000000000007,1965.70 A25.1,25.1 0 0 1 392.6,1965.70 C392.6,1949.20 406.70000000000005,1932.8 417.70000000000005,1914.8Z"/><path fill="#005b9c" d="M476.15000000000003,1914.8 C487.15000000000003,1932.8 501.25000000000006,1949.20 501.25000000000006,1965.70 A25.1,25.1 0 0 1 451.05,1965.70 C451.05,1949.20 465.15000000000003,1932.8 476.15000000000003,1914.8Z"/><path fill="#005b9c" d="M534.6,1914.8 C545.6,1932.8 559.7,1949.20 559.7,1965.70 A25.1,25.1 0 0 1 509.5,1965.70 C509.5,1949.20 523.6,1932.8 534.6,1914.8Z"/><path fill="#005b9c" d="M593.0500000000001,1914.8 C604.0500000000001,1932.8 618.1500000000001,1949.20 618.1500000000001,1965.70 A25.1,25.1 0 0 1 567.95,1965.70 C567.95,1949.20 582.0500000000001,1932.8 593.0500000000001,1914.8Z"/><path fill="#005b9c" d="M651.5,1914.8 C662.5,1932.8 676.6,1949.20 676.6,1965.70 A25.1,25.1 0 0 1 626.4,1965.70 C626.4,1949.20 640.5,1932.8 651.5,1914.8Z"/><path fill="#005b9c" d="M709.95,1914.8 C720.95,1932.8 735.0500000000001,1949.20 735.0500000000001,1965.70 A25.1,25.1 0 0 1 684.85,1965.70 C684.85,1949.20 698.95,1932.8 709.95,1914.8Z"/>
<rect x="0" y="2083" width="1200" height="57" fill="#005b9c"/>
<g fill="none" stroke="#a9dcff" stroke-width="2.8"><circle cx="58.1" cy="2111.4" r="17.2"/><circle cx="106.5" cy="2111.4" r="17.2"/><circle cx="155" cy="2111.4" r="17.2"/></g><circle cx="106.5" cy="2101.8" r="2.7" fill="#a9dcff"/><path fill="#a9dcff" d="M101.8,2105.3 h9.4 v9 h-1.7 v8.3 h-6 v-8.3 h-1.7z"/><rect x="148.1" y="2106.9" width="13.8" height="2.7" fill="#a9dcff"/><rect x="148.1" y="2112.5" width="13.8" height="2.7" fill="#a9dcff"/></svg>
<div class="t b" style="left:101.5px;width:1000px;text-align:center;top:33.13px;font-size:66px;color:#fff;letter-spacing:-1.3px;">MANUTUKE</div>
<div class="t " style="left:98.5px;width:1000px;text-align:center;top:115.97px;font-size:17.4px;color:#fff;">NEUSEELAND</div>
<div class="t b" style="left:124px;top:204.07px;font-size:33px;letter-spacing:-0.82px;">AM WÄRMSTEN IM JANUAR</div>
<div class="t b" style="left:124px;top:394.07px;font-size:33px;letter-spacing:-1.15px;">AM KÄLTESTEN IM JULI</div>
<div class="body" style="left:215px;top:250.37px;">Der Januar ist der wärmste Monat in<br>Manutuke, in dem die durchschnittlichen<br>Höchsttemperaturen 24°C und die<br>Mindesttemperaturen 15°C erreichen.</div>
<div class="body" style="left:215px;top:444.07px;">Der kälteste Monat des Jahres ist dagegen<br>der Juli mit Höchsttemperaturen von 12°C<br>und Tiefsttemperaturen um 7°C.</div>
<div class="t b" style="left:1162px;top:235.5px;font-size:20.3px;transform-origin:0 0;transform:rotate(90deg) translate(0,-50%);letter-spacing:-0.9px">38° 40' 54" S — 177° 54' 45" E</div>
<div class="t" style="left:1142.2px;top:236.5px;font-size:12.35px;transform-origin:0 0;transform:rotate(90deg) translate(0,-50%);color:#0d5fa0">GISBORNE</div>
<div class="t b" style="left:98.5px;width:1000px;text-align:center;top:629.29px;font-size:41px;letter-spacing:-0.5px;transform:scaleY(1.055);transform-origin:50% 84.65%;">TEMPERATUR</div>
<div class="t b" style="left:99.79999999999995px;width:1000px;text-align:center;top:1384.29px;font-size:41px;letter-spacing:-1.0px;transform:scaleY(1.03);transform-origin:50% 84.65%;">NIEDERSCHLAG</div>
<div class="t " style="left:-404.7px;width:500px;text-align:right;top:1019.41px;font-size:11.8px;color:#1563a0;">0°C</div>
<div class="t " style="left:-404.7px;width:500px;text-align:right;top:964.51px;font-size:11.8px;color:#1563a0;">5°C</div>
<div class="t " style="left:-404.7px;width:500px;text-align:right;top:909.61px;font-size:11.8px;color:#1563a0;">10°C</div>
<div class="t " style="left:-404.7px;width:500px;text-align:right;top:854.71px;font-size:11.8px;color:#1563a0;">15°C</div>
<div class="t " style="left:-404.7px;width:500px;text-align:right;top:799.81px;font-size:11.8px;color:#1563a0;">20°C</div>
<div class="t " style="left:-404.7px;width:500px;text-align:right;top:744.91px;font-size:11.8px;color:#1563a0;">25°C</div>
<div class="t " style="left:-370.4px;width:1000px;text-align:center;top:1034.50px;font-size:13px;color:#1563a0;">Jan</div>
<div class="t " style="left:-318.26px;width:1000px;text-align:center;top:1034.50px;font-size:13px;color:#1563a0;">Feb</div>
<div class="t " style="left:-266.12px;width:1000px;text-align:center;top:1034.50px;font-size:13px;color:#1563a0;">Mär</div>
<div class="t " style="left:-213.98000000000002px;width:1000px;text-align:center;top:1034.50px;font-size:13px;color:#1563a0;">Apr</div>
<div class="t " style="left:-161.84000000000003px;width:1000px;text-align:center;top:1034.50px;font-size:13px;color:#1563a0;">Mai</div>
<div class="t " style="left:-109.70000000000005px;width:1000px;text-align:center;top:1034.50px;font-size:13px;color:#1563a0;">Jun</div>
<div class="t " style="left:-57.559999999999945px;width:1000px;text-align:center;top:1034.50px;font-size:13px;color:#1563a0;">Jul</div>
<div class="t " style="left:-5.419999999999959px;width:1000px;text-align:center;top:1034.50px;font-size:13px;color:#1563a0;">Aug</div>
<div class="t " style="left:46.72000000000003px;width:1000px;text-align:center;top:1034.50px;font-size:13px;color:#1563a0;">Sep</div>
<div class="t " style="left:98.86000000000001px;width:1000px;text-align:center;top:1034.50px;font-size:13px;color:#1563a0;">Okt</div>
<div class="t " style="left:151.0px;width:1000px;text-align:center;top:1034.50px;font-size:13px;color:#1563a0;">Nov</div>
<div class="t " style="left:203.14px;width:1000px;text-align:center;top:1034.50px;font-size:13px;color:#1563a0;">Dez</div>
<div class="t" style="left:44.8px;top:889.5px;font-size:13.3px;letter-spacing:0.8px;color:#1563a0;transform:translate(-50%,-50%) rotate(-90deg)">Temperatur</div>
<div class="t " style="left:235.8px;top:1073.50px;font-size:13px;color:#1563a0;letter-spacing:0.75px;">Maximale Temperatur</div>
<div class="t " style="left:443px;top:1073.50px;font-size:13px;color:#1563a0;letter-spacing:0.75px;">Minimale Temperatur</div>
<div class="t b" style="left:785px;top:748.26px;font-size:18px;letter-spacing:0.05px;">DURCHSCHNITTLICHE JÄHRLICHE</div>
<div class="t b" style="left:785px;top:771.76px;font-size:18px;letter-spacing:0.05px;">TEMPERATUR</div>
<div class="body" style="left:785px;top:812.57px;">• Die durchschnittliche jährliche<br>Höchsttemperatur beträgt 18°C</div>
<div class="body" style="left:785px;top:883.87px;">• Die durchschnittliche jährliche<br>Mindesttemperatur beträgt 11°C</div>
<div class="body" style="left:785px;top:955.07px;">• Die durchschnittliche Tagestemperatur<br>für das ganze Jahr beträgt 14.5°C</div>
<div class="t b" style="left:98px;width:1000px;text-align:center;top:1137.38px;font-size:22px;letter-spacing:-0.6px;">TÄGLICHE TEMPERATUR</div>
<div class="t b" style="left:-413.875px;width:1000px;text-align:center;top:1197.56px;font-size:18px;color:rgba(0,0,0,0.48);letter-spacing:-0.5px;">JAN</div>
<div class="t b" style="left:-412.875px;width:1000px;text-align:center;top:1247.34px;font-size:28.3px;color:rgba(0,0,0,0.48);">19°</div>
<div class="t b" style="left:-320.625px;width:1000px;text-align:center;top:1197.56px;font-size:18px;color:rgba(0,0,0,0.48);letter-spacing:-0.5px;">FEB</div>
<div class="t b" style="left:-319.625px;width:1000px;text-align:center;top:1247.34px;font-size:28.3px;color:rgba(0,0,0,0.48);">20°</div>
<div class="t b" style="left:-227.375px;width:1000px;text-align:center;top:1197.56px;font-size:18px;color:rgba(0,0,0,0.48);letter-spacing:-0.5px;">MÄR</div>
<div class="t b" style="left:-226.375px;width:1000px;text-align:center;top:1247.34px;font-size:28.3px;color:rgba(0,0,0,0.48);">18°</div>
<div class="t b" style="left:-134.125px;width:1000px;text-align:center;top:1197.56px;font-size:18px;color:rgba(0,0,0,0.48);letter-spacing:-0.5px;">APR</div>
<div class="t b" style="left:-133.125px;width:1000px;text-align:center;top:1247.34px;font-size:28.3px;color:rgba(0,0,0,0.48);">16°</div>
<div class="t b" style="left:-40.875px;width:1000px;text-align:center;top:1197.56px;font-size:18px;color:rgba(0,0,0,0.48);letter-spacing:-0.5px;">MAI</div>
<div class="t b" style="left:-39.875px;width:1000px;text-align:center;top:1247.34px;font-size:28.3px;color:rgba(0,0,0,0.48);">13°</div>
<div class="t b" style="left:52.375px;width:1000px;text-align:center;top:1197.56px;font-size:18px;color:rgba(0,0,0,0.48);letter-spacing:-0.5px;">JUN</div>
<div class="t b" style="left:53.375px;width:1000px;text-align:center;top:1247.34px;font-size:28.3px;color:rgba(0,0,0,0.48);">11°</div>
<div class="t b" style="left:145.625px;width:1000px;text-align:center;top:1197.56px;font-size:18px;color:rgba(0,0,0,0.48);letter-spacing:-0.5px;">JUL</div>
<div class="t b" style="left:146.625px;width:1000px;text-align:center;top:1247.34px;font-size:28.3px;color:rgba(0,0,0,0.48);">10°</div>
<div class="t b" style="left:238.875px;width:1000px;text-align:center;top:1197.56px;font-size:18px;color:rgba(0,0,0,0.48);letter-spacing:-0.5px;">AUG</div>
<div class="t b" style="left:239.875px;width:1000px;text-align:center;top:1247.34px;font-size:28.3px;color:rgba(0,0,0,0.48);">10°</div>
<div class="t b" style="left:332.125px;width:1000px;text-align:center;top:1197.56px;font-size:18px;color:rgba(0,0,0,0.48);letter-spacing:-0.5px;">SEP</div>
<div class="t b" style="left:333.125px;width:1000px;text-align:center;top:1247.34px;font-size:28.3px;color:rgba(0,0,0,0.48);">11°</div>
<div class="t b" style="left:425.375px;width:1000px;text-align:center;top:1197.56px;font-size:18px;color:rgba(0,0,0,0.48);letter-spacing:-0.5px;">OKT</div>
<div class="t b" style="left:426.375px;width:1000px;text-align:center;top:1247.34px;font-size:28.3px;color:rgba(0,0,0,0.48);">13°</div>
<div class="t b" style="left:518.625px;width:1000px;text-align:center;top:1197.56px;font-size:18px;color:rgba(0,0,0,0.48);letter-spacing:-0.5px;">NOV</div>
<div class="t b" style="left:519.625px;width:1000px;text-align:center;top:1247.34px;font-size:28.3px;color:rgba(0,0,0,0.48);">15°</div>
<div class="t b" style="left:611.875px;width:1000px;text-align:center;top:1197.56px;font-size:18px;color:rgba(0,0,0,0.48);letter-spacing:-0.5px;">DEZ</div>
<div class="t b" style="left:612.875px;width:1000px;text-align:center;top:1247.34px;font-size:28.3px;color:rgba(0,0,0,0.48);">18°</div>
<div class="t " style="left:-394px;width:500px;text-align:right;top:1779.41px;font-size:11.8px;color:#1563a0;letter-spacing:0.25px;">0 mm</div>
<div class="t " style="left:-394px;width:500px;text-align:right;top:1733.66px;font-size:11.8px;color:#1563a0;letter-spacing:0.25px;">20 mm</div>
<div class="t " style="left:-394px;width:500px;text-align:right;top:1687.91px;font-size:11.8px;color:#1563a0;letter-spacing:0.25px;">40 mm</div>
<div class="t " style="left:-394px;width:500px;text-align:right;top:1642.16px;font-size:11.8px;color:#1563a0;letter-spacing:0.25px;">60 mm</div>
<div class="t " style="left:-394px;width:500px;text-align:right;top:1596.41px;font-size:11.8px;color:#1563a0;letter-spacing:0.25px;">80 mm</div>
<div class="t " style="left:-394px;width:500px;text-align:right;top:1550.66px;font-size:11.8px;color:#1563a0;letter-spacing:0.25px;">100 mm</div>
<div class="t " style="left:-394px;width:500px;text-align:right;top:1504.91px;font-size:11.8px;color:#1563a0;letter-spacing:0.25px;">120 mm</div>
<div class="t " style="left:-360.7583333333333px;width:1000px;text-align:center;top:1793.50px;font-size:13px;color:#1563a0;">Jan</div>
<div class="t " style="left:-309.475px;width:1000px;text-align:center;top:1793.50px;font-size:13px;color:#1563a0;">Feb</div>
<div class="t " style="left:-258.1916666666667px;width:1000px;text-align:center;top:1793.50px;font-size:13px;color:#1563a0;">Mär</div>
<div class="t " style="left:-206.9083333333333px;width:1000px;text-align:center;top:1793.50px;font-size:13px;color:#1563a0;">Apr</div>
<div class="t " style="left:-155.625px;width:1000px;text-align:center;top:1793.50px;font-size:13px;color:#1563a0;">Mai</div>
<div class="t " style="left:-104.3416666666667px;width:1000px;text-align:center;top:1793.50px;font-size:13px;color:#1563a0;">Jun</div>
<div class="t " style="left:-53.058333333333394px;width:1000px;text-align:center;top:1793.50px;font-size:13px;color:#1563a0;">Jul</div>
<div class="t " style="left:-1.7749999999999773px;width:1000px;text-align:center;top:1793.50px;font-size:13px;color:#1563a0;">Aug</div>
<div class="t " style="left:49.508333333333326px;width:1000px;text-align:center;top:1793.50px;font-size:13px;color:#1563a0;">Sep</div>
<div class="t " style="left:100.79166666666663px;width:1000px;text-align:center;top:1793.50px;font-size:13px;color:#1563a0;">Okt</div>
<div class="t " style="left:152.07500000000005px;width:1000px;text-align:center;top:1793.50px;font-size:13px;color:#1563a0;">Nov</div>
<div class="t " style="left:203.35833333333335px;width:1000px;text-align:center;top:1793.50px;font-size:13px;color:#1563a0;">Dez</div>
<div class="t" style="left:44.8px;top:1647px;font-size:13.3px;letter-spacing:0.75px;color:#1563a0;transform:translate(-50%,-50%) rotate(-90deg)">Niederschlag</div>
<div class="t " style="left:328.3px;top:1831.60px;font-size:13px;color:#1563a0;letter-spacing:0.55px;">Niederschlagssumme</div>
<div class="body" style="left:785px;top:1503.57px;">Die durchschnittliche jährliche<br>Niederschlagsmenge in Manutuke<br>beträgt etwa 1002 mm. Der Unterschied<br>zwischen der höchsten<br>Niederschlagsmenge (Juli) und der<br>niedrigsten (Februar) beträgt 49.7 mm.</div>
<div class="body" style="left:785px;top:1669.57px;">Die meisten Niederschläge fallen im Juli,<br>mit einer monatlichen<br>Niederschlagsmenge von 109 mm in<br>diesem Zeitraum und einer<br>Niederschlagswahrscheinlichkeit von<br>etwa 29%. Die geringsten<br>Niederschlagsmengen werden dagegen<br>im Februar mit durchschnittlich 59 mm<br>und einer Wahrscheinlichkeit von 22%<br>verzeichnet.</div>
<div class="t b" style="left:785px;top:1937.76px;font-size:18px;letter-spacing:0.05px;">NIEDERSCHLAG NACH TYP</div>
<div class="body" style="left:785px;top:1967.57px;">• Regen: 100%</div>
<div class="body" style="left:785px;top:1996.57px;">• Schnee: 0%</div>
<div class="t b" style="left:-111.19999999999999px;width:1000px;text-align:center;top:1880.26px;font-size:16px;color:#fff;letter-spacing:-0.41px;">NIEDERSCHLAGSWAHRSCHEINLICHKEIT</div>
<div class="t b" style="left:-433.3px;width:1000px;text-align:center;top:1959.30px;font-size:17.6px;color:#fff;letter-spacing:-0.1px;">19%</div>
<div class="t b" style="left:-434.2px;width:1000px;text-align:center;top:1999.46px;font-size:12.8px;letter-spacing:-0.5px;">JAN</div>
<div class="t b" style="left:-374.85px;width:1000px;text-align:center;top:1959.30px;font-size:17.6px;color:#fff;letter-spacing:-0.1px;">22%</div>
<div class="t b" style="left:-375.75px;width:1000px;text-align:center;top:1999.46px;font-size:12.8px;letter-spacing:-0.5px;">FEB</div>
<div class="t b" style="left:-316.4px;width:1000px;text-align:center;top:1959.30px;font-size:17.6px;color:#fff;letter-spacing:-0.1px;">21%</div>
<div class="t b" style="left:-317.29999999999995px;width:1000px;text-align:center;top:1999.46px;font-size:12.8px;letter-spacing:-0.5px;">MÄR</div>
<div class="t b" style="left:-257.95px;width:1000px;text-align:center;top:1959.30px;font-size:17.6px;color:#fff;letter-spacing:-0.1px;">28%</div>
<div class="t b" style="left:-258.84999999999997px;width:1000px;text-align:center;top:1999.46px;font-size:12.8px;letter-spacing:-0.5px;">APR</div>
<div class="t b" style="left:-199.5px;width:1000px;text-align:center;top:1959.30px;font-size:17.6px;color:#fff;letter-spacing:-0.1px;">23%</div>
<div class="t b" style="left:-200.39999999999998px;width:1000px;text-align:center;top:1999.46px;font-size:12.8px;letter-spacing:-0.5px;">MAI</div>
<div class="t b" style="left:-141.05px;width:1000px;text-align:center;top:1959.30px;font-size:17.6px;color:#fff;letter-spacing:-0.1px;">31%</div>
<div class="t b" style="left:-141.95px;width:1000px;text-align:center;top:1999.46px;font-size:12.8px;letter-spacing:-0.5px;">JUN</div>
<div class="t b" style="left:-82.59999999999997px;width:1000px;text-align:center;top:1959.30px;font-size:17.6px;color:#fff;letter-spacing:-0.1px;">29%</div>
<div class="t b" style="left:-83.49999999999994px;width:1000px;text-align:center;top:1999.46px;font-size:12.8px;letter-spacing:-0.5px;">JUL</div>
<div class="t b" style="left:-24.149999999999977px;width:1000px;text-align:center;top:1959.30px;font-size:17.6px;color:#fff;letter-spacing:-0.1px;">33%</div>
<div class="t b" style="left:-25.049999999999955px;width:1000px;text-align:center;top:1999.46px;font-size:12.8px;letter-spacing:-0.5px;">AUG</div>
<div class="t b" style="left:34.30000000000007px;width:1000px;text-align:center;top:1959.30px;font-size:17.6px;color:#fff;letter-spacing:-0.1px;">32%</div>
<div class="t b" style="left:33.39999999999998px;width:1000px;text-align:center;top:1999.46px;font-size:12.8px;letter-spacing:-0.5px;">SEP</div>
<div class="t b" style="left:92.75000000000011px;width:1000px;text-align:center;top:1959.30px;font-size:17.6px;color:#fff;letter-spacing:-0.1px;">26%</div>
<div class="t b" style="left:91.85000000000002px;width:1000px;text-align:center;top:1999.46px;font-size:12.8px;letter-spacing:-0.5px;">OKT</div>
<div class="t b" style="left:151.20000000000005px;width:1000px;text-align:center;top:1959.30px;font-size:17.6px;color:#fff;letter-spacing:-0.1px;">25%</div>
<div class="t b" style="left:150.29999999999995px;width:1000px;text-align:center;top:1999.46px;font-size:12.8px;letter-spacing:-0.5px;">NOV</div>
<div class="t b" style="left:209.6500000000001px;width:1000px;text-align:center;top:1959.30px;font-size:17.6px;color:#fff;letter-spacing:-0.1px;">25%</div>
<div class="t b" style="left:208.75px;width:1000px;text-align:center;top:1999.46px;font-size:12.8px;letter-spacing:-0.5px;">DEZ</div>
<div class="t b" style="left:185.3px;top:2103.96px;font-size:15.4px;color:#a9dcff;letter-spacing:1.08px;-webkit-text-stroke:0.45px #a9dcff;">CC BY-ND 4.0</div>
<div class="t b" style="left:58.2px;top:2111.2px;font-size:15px;color:#a9dcff;transform:translate(-50%,-50%);letter-spacing:0px;-webkit-text-stroke:0.45px #a9dcff">CC</div>
<div class="t b" style="left:657.2px;width:500px;text-align:right;top:2101.30px;font-size:21.5px;color:#fff;letter-spacing:-0.45px;">METEOATLAS.DE</div>
</body></html>
